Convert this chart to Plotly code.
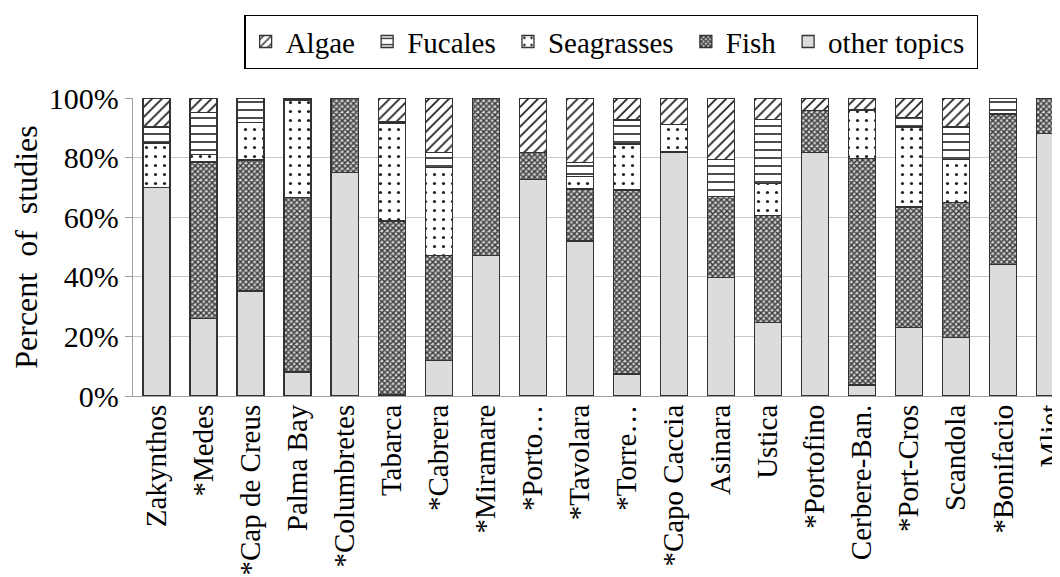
import plotly.graph_objects as go

categories = ["Zakynthos", "*Medes", "*Cap de Creus", "Palma Bay", "*Columbretes",
              "Tabarca", "*Cabrera", "*Miramare", "*Porto\u2026", "*Tavolara",
              "*Torre\u2026", "*Capo Caccia", "Asinara", "Ustica", "*Portofino",
              "Cerbere-Ban.", "*Port-Cros", "Scandola", "*Bonifacio", "Mljet"]

other_topics = [70, 26, 35.2, 8.1, 75, 0.6, 11.8, 47.1, 72.6, 52, 7.4, 81.9, 39.8, 24.6, 81.7, 3.7, 23.1, 19.7, 44.2, 88]
fish = [0, 52.5, 44, 58.6, 25, 58.1, 35.4, 52.9, 9.1, 17.5, 61.7, 0, 27.1, 36, 14.1, 76.1, 40.3, 45.2, 50.4, 12]
seagrasses = [14.9, 2.5, 12.6, 32.6, 0, 32.7, 29.4, 0, 0, 4.2, 15.5, 9.2, 0, 10.8, 0, 16.2, 26.9, 14.5, 0, 0]
fucales = [5.4, 14.2, 8.2, 0.7, 0, 0.5, 5.1, 0, 0, 4.6, 8, 0, 12.5, 21.4, 0, 0, 3.2, 10.9, 5.4, 0]
algae = [9.7, 4.8, 0, 0, 0, 8.1, 18.3, 0, 18.3, 21.7, 7.4, 8.9, 20.6, 7.2, 4.2, 4, 6.5, 9.7, 0, 0]

FONT = "Liberation Serif"
line = dict(color="#333333", width=1.3)
PAD = "\u00a0"

fig = go.Figure()
fig.add_trace(go.Bar(name="other topics" + PAD, x=categories, y=other_topics,
                     marker=dict(color="#dcdcdc", line=line)))
fig.add_trace(go.Bar(name="Fish" + PAD, x=categories, y=fish,
                     marker=dict(color="#ffffff", line=line,
                                 pattern=dict(shape="x", size=4, solidity=0.6,
                                              fgcolor="#3a3a3a", bgcolor="#d0d0d0", fillmode="replace"))))
fig.add_trace(go.Bar(name="Seagrasses" + PAD, x=categories, y=seagrasses,
                     marker=dict(color="#ffffff", line=line,
                                 pattern=dict(shape=".", size=9, solidity=0.1,
                                              fgcolor="#222222", bgcolor="#ffffff", fillmode="replace"))))
fig.add_trace(go.Bar(name="Fucales" + PAD, x=categories, y=fucales,
                     marker=dict(color="#ffffff", line=line,
                                 pattern=dict(shape="-", size=8, solidity=0.2,
                                              fgcolor="#222222", bgcolor="#ffffff", fillmode="replace"))))
fig.add_trace(go.Bar(name="Algae" + PAD, x=categories, y=algae,
                     marker=dict(color="#ffffff", line=line,
                                 pattern=dict(shape="/", size=7, solidity=0.25,
                                              fgcolor="#222222", bgcolor="#ffffff", fillmode="replace"))))

# page body has an 8px default margin, so the figure is offset by 8px
fig.update_layout(
    width=1052, height=569,
    margin=dict(l=125, r=0, t=90, b=181, autoexpand=False),
    barmode="stack", bargap=0.425,
    paper_bgcolor="white", plot_bgcolor="white",
    font=dict(family=FONT, size=29, color="black"),
    legend=dict(orientation="h", traceorder="reversed",
                x=0.516, xanchor="center", y=1.279, yanchor="top",
                bordercolor="black", borderwidth=1.3,
                font=dict(family=FONT, size=29, color="black"), itemwidth=30,
                itemclick=False),
    xaxis=dict(range=[-0.5, 19.21], tickangle=-90, showline=True,
               linecolor="#a0a0a0", linewidth=1.3, ticks="", showgrid=False,
               ticklabeloverflow="allow", ticklabelstandoff=-4,
               tickfont=dict(family=FONT, size=29)),
    yaxis=dict(range=[0, 100], dtick=20, ticksuffix="%", showline=True,
               linecolor="#a0a0a0", linewidth=1.3, ticks="outside", ticklen=7,
               tickcolor="#a0a0a0", gridcolor="#c8c8c8", gridwidth=1,
               tickfont=dict(family=FONT, size=30),
               title=dict(text="Percent\u00a0\u00a0of\u00a0\u00a0studies", standoff=2,
                          font=dict(family=FONT, size=32))),
)

fig.write_html("out.html")
